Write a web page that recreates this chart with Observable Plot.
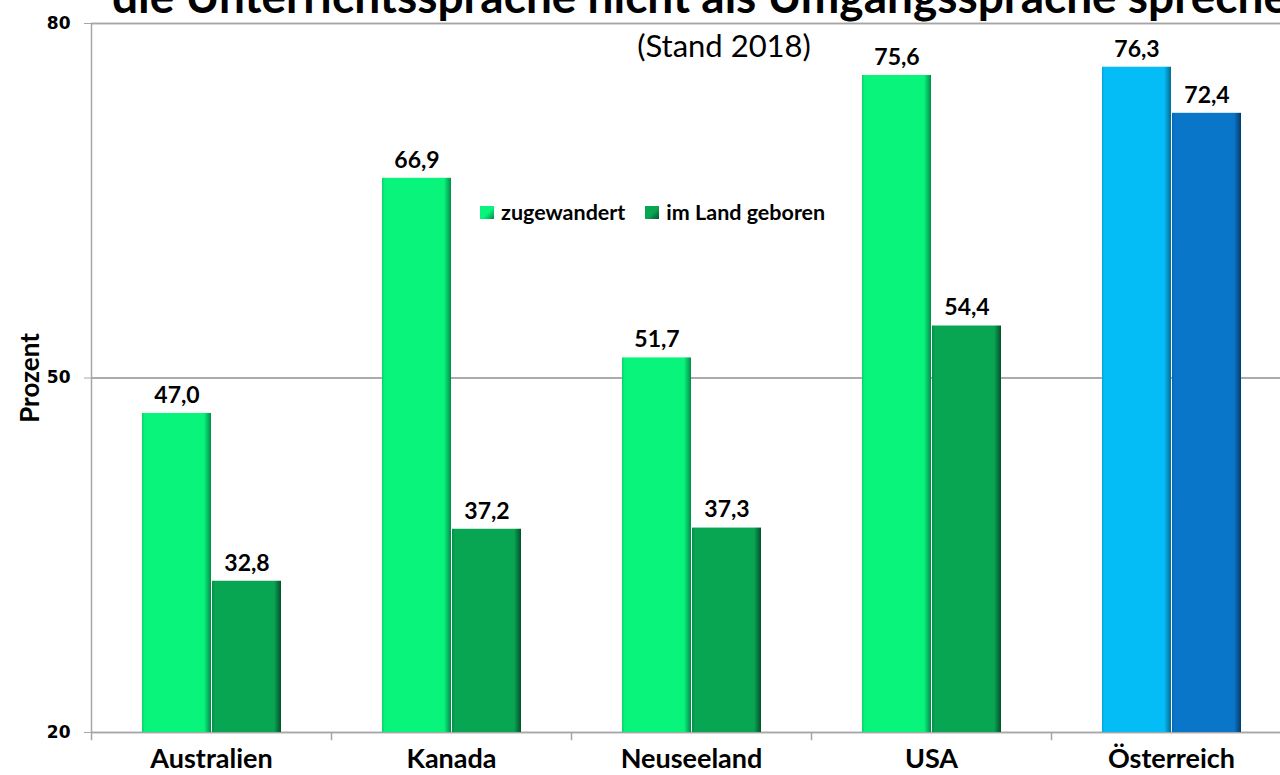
<!DOCTYPE html>
<html>
<head>
<meta charset="utf-8">
<script src="https://cdn.jsdelivr.net/npm/d3@7"></script>
<script src="https://cdn.jsdelivr.net/npm/@observablehq/plot@0.6"></script>
<style>
  html, body { margin: 0; padding: 0; background: #fff; overflow: hidden; }
  #wrap { position: relative; width: 1280px; height: 775px; overflow: hidden; }
  #chart svg { max-width: none !important; width: 1291px !important; height: 775px !important; display: block; }
  #overlay { position: absolute; left: 0; top: 0; width: 1280px; height: 775px; pointer-events: none; }
  #legend { position: absolute; left: 480px; top: 199px; display: flex; align-items: center;
    font: bold 21.5px Lato, "Open Sans", sans-serif; color: #000; line-height: 26px; }
  #legend .sw { display: inline-block; width: 14px; height: 13px; margin-right: 7px; }
  #legend .item { display: flex; align-items: center; margin-right: 20px; }
</style>
</head>
<body>
<div id="wrap">
  <div id="chart"></div>
  <svg id="overlay" width="1280" height="775">
    <text x="112" y="13" font-family="Lato, 'Open Sans', sans-serif" font-weight="bold" font-size="46" fill="#000">die Unterrichtssprache nicht als Umgangssprache sprechen</text>
    <text x="724" y="57" text-anchor="middle" font-family="Lato, 'Open Sans', sans-serif" font-size="31" fill="#000">(Stand 2018)</text>
  </svg>
  <div id="legend"></div>
</div>
<script>
const countries = ["Australien", "Kanada", "Neuseeland", "USA", "Österreich"];
const zugewandert = [47.0, 66.9, 51.7, 75.6, 76.3];
const geboren = [32.8, 37.2, 37.3, 54.4, 72.4];
const seriesNames = ["zugewandert", "im Land geboren"];
const yTicks = [20, 50, 80];

const rows = countries.map((c, i) => ({country: c, zug: zugewandert[i], geb: geboren[i]}));
const fmt = v => v.toFixed(1).replace(".", ",");

const grey = "#A6A6A6";
const lbl = {fontFamily: "Lato, 'Open Sans', sans-serif", fontWeight: "bold", fontSize: 23, fill: "#000"};

const plot = Plot.plot({
  width: 1291,
  height: 775,
  marginLeft: 91,
  marginRight: 0,
  marginTop: 23,
  marginBottom: 43,
  style: {background: "#fff", overflow: "visible"},
  x: {domain: countries, padding: 0, label: null},
  y: {domain: [20, 80], label: null},
  color: {type: "ordinal", domain: ["zA", "gA", "zO", "gO"],
          range: ["url(#gzA)", "url(#ggA)", "url(#gzO)", "url(#ggO)"]},
  marks: [
    Plot.ruleY([50, 80], {stroke: grey, strokeWidth: 1.5}),
    Plot.ruleY([20], {stroke: grey, strokeWidth: 1.5}),
    Plot.ruleX(countries.slice(0, 1), {x: d => d, dx: -120, y1: 19.3, y2: 80, stroke: grey, strokeWidth: 1.5}),
    Plot.ruleX(countries, {x: d => d, dx: 120, y1: 19.3, y2: 20, stroke: grey, strokeWidth: 1.5}),
    Plot.tickY(yTicks, {y: d => d, frameAnchor: "left", stroke: grey, strokeWidth: 1.5}),
    Plot.axisY({ticks: yTicks, tickSize: 7, stroke: grey, text: null}),
    Plot.text(yTicks, {y: d => d, text: d => String(d), frameAnchor: "left", textAnchor: "end", dx: -21,
      fontFamily: "'DejaVu Sans', sans-serif", fontWeight: "bold", fontSize: 17, fill: "#000"}),
    Plot.axisX({tickSize: 0, tickPadding: 16, fontFamily: "Lato, 'Open Sans', sans-serif",
      fontWeight: "bold", fontSize: 27, fill: "#000"}),
    Plot.barY(rows, {x: "country", y1: 20, y2: "zug", insetLeft: 51, insetRight: 120,
      fill: d => d.country === "Österreich" ? "zO" : "zA"}),
    Plot.barY(rows, {x: "country", y1: 20, y2: "geb", insetLeft: 121, insetRight: 50,
      fill: d => d.country === "Österreich" ? "gO" : "gA"}),
    Plot.text(rows, {x: "country", y: "zug", text: d => fmt(d.zug), dx: -34.5, dy: -18, ...lbl}),
    Plot.text(rows, {x: "country", y: "geb", text: d => fmt(d.geb), dx: 35.5, dy: -18, ...lbl}),
    Plot.text(["Prozent"], {text: d => d, frameAnchor: "left", textAnchor: "middle", rotate: -90, dx: -61,
      fontFamily: "Lato, 'Open Sans', sans-serif", fontWeight: "bold", fontSize: 26, fill: "#000"})
  ]
});

// gradients for beveled bar look
const defs = d3.select(plot).insert("defs", ":first-child");
const grads = [
  ["gzA", "#0ACF66", "#08F47A", "#05894A"],
  ["ggA", "#068E45", "#08A552", "#03502A"],
  ["gzO", "#04A6DC", "#05BDF6", "#036C90"],
  ["ggO", "#0864B0", "#0A76CA", "#043A68"]
];
for (const [id, edge, main, dark] of grads) {
  const g = defs.append("linearGradient").attr("id", id).attr("x1", 0).attr("x2", 1).attr("y1", 0).attr("y2", 0);
  g.append("stop").attr("offset", "0%").attr("stop-color", edge);
  g.append("stop").attr("offset", "4%").attr("stop-color", main);
  g.append("stop").attr("offset", "90%").attr("stop-color", main);
  g.append("stop").attr("offset", "100%").attr("stop-color", dark);
}
document.getElementById("chart").appendChild(plot);

// legend
const legend = document.getElementById("legend");
[["#08F47A", "#05894A"], ["#08A552", "#03502A"]].forEach(([c, d], i) => {
  const item = document.createElement("span");
  item.className = "item";
  item.innerHTML = `<span class="sw" style="background: linear-gradient(135deg, ${c} 55%, ${d})"></span>${seriesNames[i]}`;
  legend.appendChild(item);
});
</script>
</body>
</html>
